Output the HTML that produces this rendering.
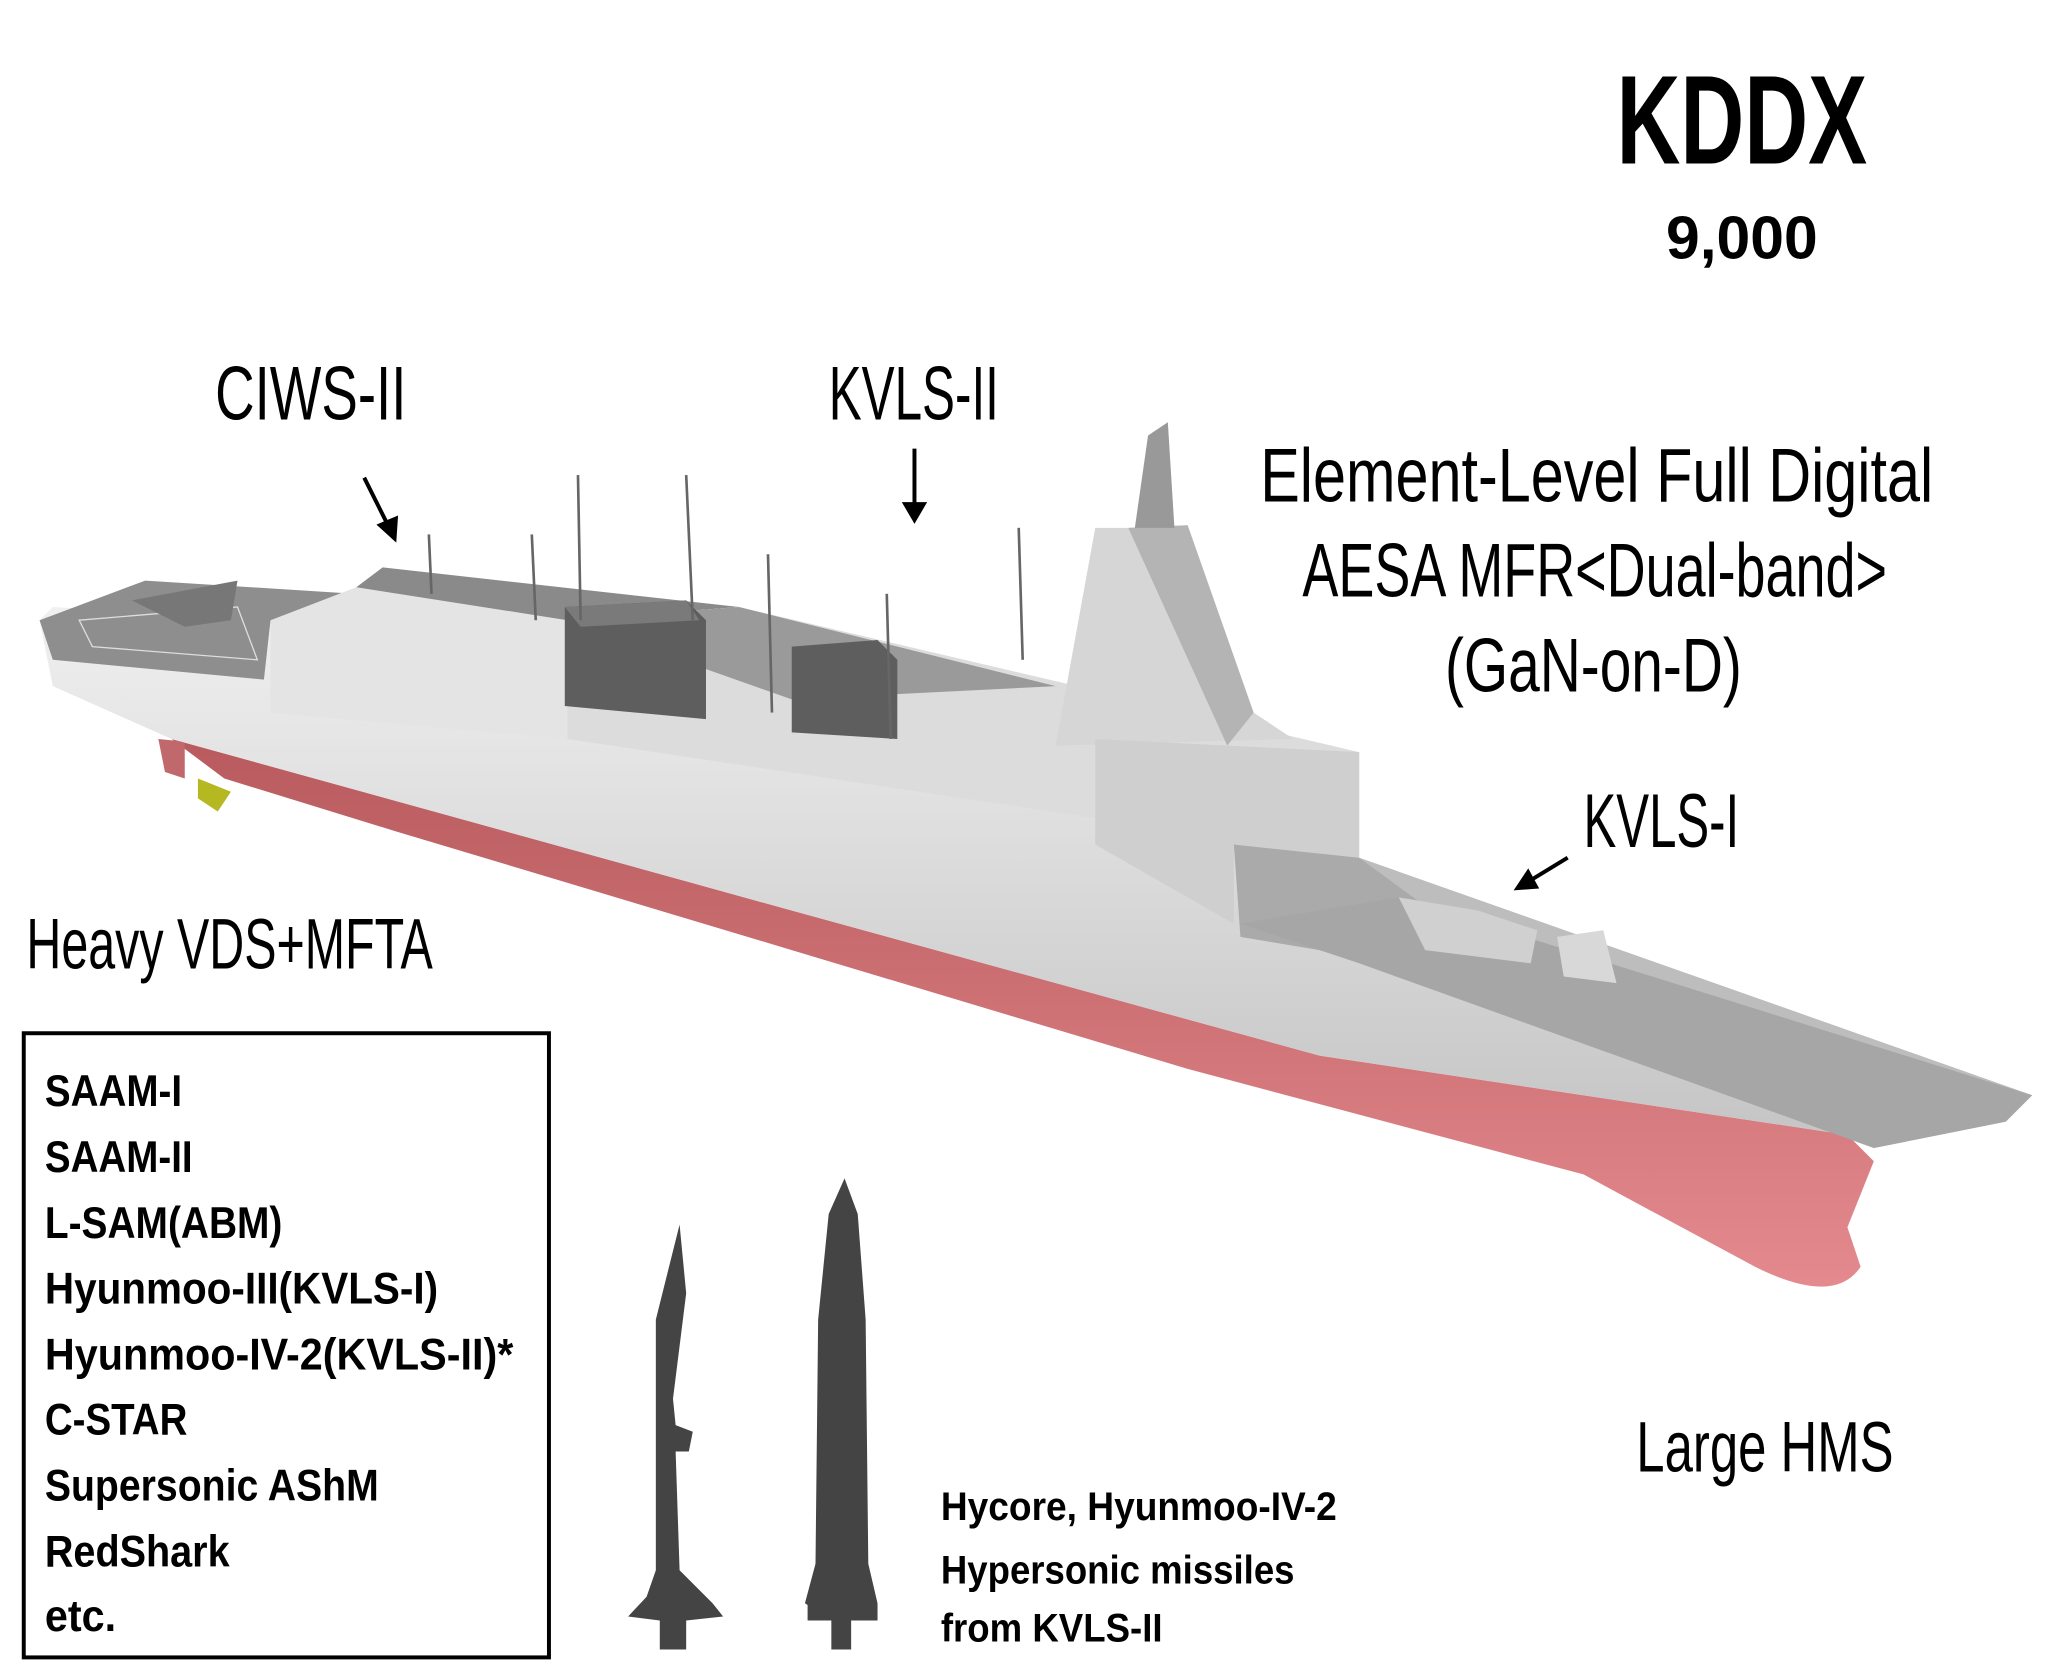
<!DOCTYPE html>
<html><head><meta charset="utf-8"><style>
html,body{margin:0;padding:0;background:#fff}
svg{display:block}
text{font-family:"Liberation Sans Narrow","Liberation Sans",sans-serif}
</style></head><body>
<svg width="2048" height="1664" viewBox="0 0 1552 1261" preserveAspectRatio="none" xmlns="http://www.w3.org/2000/svg">
<defs>
<linearGradient id="hull" x1="0" y1="0" x2="0" y2="1">
<stop offset="0" stop-color="#f0f0f0"/><stop offset="1" stop-color="#c4c4c4"/></linearGradient>
<linearGradient id="red" x1="0" y1="0" x2="0" y2="1">
<stop offset="0" stop-color="#b85a5e"/><stop offset="1" stop-color="#e48a8e"/></linearGradient>
</defs>
<rect width="1552" height="1261" fill="#fff"/>
<!-- red underwater hull -->
<path d="M130,560 L600,690 L1000,800 L1400,860 L1420,880 L1400,930 L1410,960 Q1390,990 1330,960 L1200,890 L900,810 L600,720 L300,630 L170,590 Z" fill="url(#red)"/>
<!-- rudder & prop -->
<path d="M120,560 L140,562 L140,590 L125,585 Z" fill="#c0686c"/>
<path d="M150,590 L175,600 L165,615 L150,605 Z" fill="#b5b820"/>
<!-- hull side -->
<path d="M30,470 L40,460 L210,470 L430,520 L1030,650 L1540,830 L1520,850 L1420,870 L1400,860 L1000,800 L600,690 L130,560 L40,520 Z" fill="url(#hull)"/>
<path d="M1030,650 L1540,830 L1520,850 L1420,870 L1380,855 L1180,760 L1030,700 Z" fill="#bdbdbd"/>
<!-- stern helideck -->
<path d="M30,470 L110,440 L270,450 L205,470 L200,515 L40,500 Z" fill="#8e8e8e"/>
<path d="M60,470 L180,460 L195,500 L70,490 Z" fill="none" stroke="#ddd" stroke-width="1"/>
<!-- helicopter -->
<path d="M100,455 L180,440 L175,470 L140,475 Z" fill="#777"/>
<!-- hangar/superstructure -->
<path d="M205,470 L270,445 L430,460 L430,560 L205,540 Z" fill="#e4e4e4"/>
<path d="M270,445 L290,430 L560,460 L430,470 Z" fill="#8a8a8a"/>
<path d="M430,470 L560,460 L1030,570 L1030,650 L430,560 Z" fill="#dcdcdc"/>
<path d="M430,470 L560,460 L800,520 L600,530 Z" fill="#9a9a9a"/>
<!-- block 1 -->
<path d="M428,460 L520,455 L535,470 L535,545 L428,535 Z" fill="#5e5e5e"/>
<path d="M428,460 L520,455 L530,470 L440,475 Z" fill="#7a7a7a"/>
<!-- block 2 -->
<path d="M600,490 L665,485 L680,500 L680,560 L600,555 Z" fill="#5e5e5e"/>
<!-- mast pyramid -->
<path d="M855,400 L900,398 L950,540 L980,560 L800,565 L830,400 Z" fill="#d6d6d6"/>
<path d="M855,400 L900,398 L950,540 L930,565 Z" fill="#b4b4b4"/>
<path d="M870,330 L885,320 L890,400 L860,400 Z" fill="#999"/>
<path d="M830,560 L1030,570 L1030,650 L935,640 L935,700 L830,640 Z" fill="#cfcfcf"/>
<path d="M935,640 L1030,650 L1180,760 L1000,720 L940,710 Z" fill="#aaa"/>
<!-- front deck -->
<path d="M940,700 L1060,680 L1540,830 L1520,850 L1420,870 L1030,730 Z" fill="#a6a6a6"/>
<path d="M1060,680 L1120,690 L1165,705 L1160,730 L1080,720 Z" fill="#d0d0d0"/>
<path d="M1180,710 L1215,705 L1225,745 L1185,740 Z" fill="#d8d8d8"/>
<!-- masts -->
<g stroke="#666" stroke-width="2">
<line x1="438" y1="360" x2="440" y2="470"/><line x1="520" y1="360" x2="525" y2="470"/>
<line x1="403" y1="405" x2="406" y2="470"/><line x1="582" y1="420" x2="585" y2="540"/>
<line x1="672" y1="450" x2="675" y2="560"/><line x1="772" y1="400" x2="775" y2="500"/>
<line x1="325" y1="405" x2="327" y2="450"/>
</g>
<!-- missiles -->
<path d="M515,928 L520,980 L510,1060 L512,1080 L525,1085 L522,1100 L512,1100 L515,1190 L540,1215 L548,1225 L520,1228 L520,1250 L500,1250 L500,1228 L476,1225 L490,1210 L497,1190 L497,1000 Z" fill="#444"/>
<path d="M640,893 L650,920 L656,1000 L658,1185 L665,1215 L625,1225 L610,1215 L618,1185 L620,1000 L628,920 Z" fill="#444"/>
<path d="M612,1215 L665,1215 L665,1228 L645,1228 L645,1250 L630,1250 L630,1228 L612,1228 Z" fill="#444"/>
<!-- titles -->
<text x="1320" y="124" font-size="96" font-weight="bold" text-anchor="middle" textLength="190" lengthAdjust="spacingAndGlyphs">KDDX</text>
<text x="1320" y="196" font-size="46" font-weight="bold" text-anchor="middle" textLength="115" lengthAdjust="spacingAndGlyphs">9,000</text>
<text x="163" y="318" font-size="58" textLength="145" lengthAdjust="spacingAndGlyphs">CIWS-II</text>
<text x="628" y="318" font-size="58" textLength="129" lengthAdjust="spacingAndGlyphs">KVLS-II</text>
<text x="955" y="380" font-size="58" textLength="510" lengthAdjust="spacingAndGlyphs">Element-Level Full Digital</text>
<text x="987" y="452" font-size="58" textLength="443" lengthAdjust="spacingAndGlyphs">AESA MFR&lt;Dual-band&gt;</text>
<text x="1095" y="524" font-size="58" textLength="225" lengthAdjust="spacingAndGlyphs">(GaN-on-D)</text>
<text x="1200" y="642" font-size="58" textLength="118" lengthAdjust="spacingAndGlyphs">KVLS-I</text>
<text x="20" y="734" font-size="54" textLength="308" lengthAdjust="spacingAndGlyphs">Heavy VDS+MFTA</text>
<text x="1240" y="1115" font-size="54" textLength="195" lengthAdjust="spacingAndGlyphs">Large HMS</text>
<!-- arrows -->
<g stroke="#000" stroke-width="3" fill="#000">
<line x1="276" y1="362" x2="295" y2="400"/><path d="M299,408 L288,398 L300,393 Z"/>
<line x1="693" y1="340" x2="693" y2="385"/><path d="M693,394 L686,382 L700,382 Z"/>
<line x1="1188" y1="650" x2="1160" y2="667"/><path d="M1150,673 L1158,661 L1164,672 Z"/>
</g>
<!-- box -->
<rect x="18" y="783" width="398" height="473" fill="none" stroke="#000" stroke-width="3"/>
<g font-size="34" font-weight="bold">
<text x="34" y="838" textLength="104" lengthAdjust="spacingAndGlyphs">SAAM-I</text>
<text x="34" y="888" textLength="112" lengthAdjust="spacingAndGlyphs">SAAM-II</text>
<text x="34" y="938" textLength="180" lengthAdjust="spacingAndGlyphs">L-SAM(ABM)</text>
<text x="34" y="988" textLength="298" lengthAdjust="spacingAndGlyphs">Hyunmoo-III(KVLS-I)</text>
<text x="34" y="1038" textLength="355" lengthAdjust="spacingAndGlyphs">Hyunmoo-IV-2(KVLS-II)*</text>
<text x="34" y="1087" textLength="108" lengthAdjust="spacingAndGlyphs">C-STAR</text>
<text x="34" y="1137" textLength="253" lengthAdjust="spacingAndGlyphs">Supersonic AShM</text>
<text x="34" y="1187" textLength="140" lengthAdjust="spacingAndGlyphs">RedShark</text>
<text x="34" y="1236" textLength="54" lengthAdjust="spacingAndGlyphs">etc.</text>
</g>
<g font-size="30" font-weight="bold">
<text x="713" y="1152" textLength="300" lengthAdjust="spacingAndGlyphs">Hycore, Hyunmoo-IV-2</text>
<text x="713" y="1200" textLength="268" lengthAdjust="spacingAndGlyphs">Hypersonic missiles</text>
<text x="713" y="1244" textLength="168" lengthAdjust="spacingAndGlyphs">from KVLS-II</text>
</g>
</svg>
</body></html>
